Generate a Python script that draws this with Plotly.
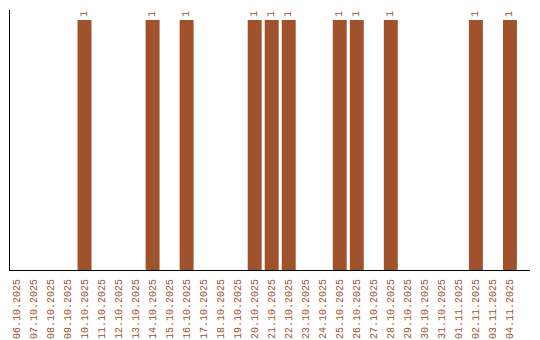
import plotly.graph_objects as go

dates = ["06.10.2025","07.10.2025","08.10.2025","09.10.2025","10.10.2025","11.10.2025",
         "12.10.2025","13.10.2025","14.10.2025","15.10.2025","16.10.2025","17.10.2025",
         "18.10.2025","19.10.2025","20.10.2025","21.10.2025","22.10.2025","23.10.2025",
         "24.10.2025","25.10.2025","26.10.2025","27.10.2025","28.10.2025","29.10.2025",
         "30.10.2025","31.10.2025","01.11.2025","02.11.2025","03.11.2025","04.11.2025"]
counts = [0,0,0,0,1,0,0,0,1,0,1,0,0,0,1,1,1,0,0,1,1,0,1,0,0,0,0,1,0,1]

color = "#A0522D"
xs = list(range(len(dates)))
texts = [str(v) if v else "" for v in counts]

fig = go.Figure(go.Bar(
    x=xs, y=counts, marker=dict(color=color, line=dict(width=0)),
    width=0.82, text=texts, textposition="outside", textangle=-90,
    textfont=dict(family="Liberation Mono", size=10, color=color),
    cliponaxis=False, hoverinfo="skip"))

fig.update_layout(
    width=540, height=340, margin=dict(l=10, r=10, t=10, b=70, autoexpand=False),
    plot_bgcolor="white", paper_bgcolor="white", showlegend=False,
    xaxis=dict(range=[-0.38, 30.18], tickmode="array", tickvals=xs, ticktext=dates,
               tickangle=-90, tickfont=dict(family="Liberation Mono", size=10, color=color),
               showline=True, linecolor="black", linewidth=1, showgrid=False,
               zeroline=False, ticks="", automargin=False, ticklabelstandoff=4),
    yaxis=dict(range=[0, 1.04], showticklabels=False, showline=True, linecolor="black",
               linewidth=1, showgrid=False, zeroline=False, ticks="", automargin=False),
)
fig.write_html("out.html")
